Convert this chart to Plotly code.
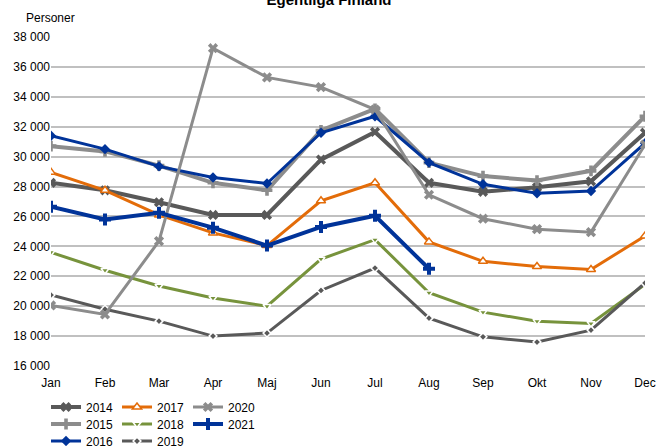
import plotly.graph_objects as go

months = ["Jan", "Feb", "Mar", "Apr", "Maj", "Jun", "Jul", "Aug", "Sep", "Okt", "Nov", "Dec"]

y2014 = [28250, 27750, 26950, 26100, 26100, 29800, 31650, 28250, 27650, 27950, 28350, 31600]
y2015 = [30700, 30350, 29400, 28250, 27750, 31750, 33200, 29600, 28700, 28400, 29050, 32700]
y2016 = [31400, 30500, 29350, 28600, 28200, 31600, 32700, 29600, 28150, 27550, 27700, 30900]
y2017 = [28950, 27750, 26100, 24900, 24050, 27050, 28250, 24300, 23000, 22650, 22450, 24700]
y2018 = [23600, 22400, 21350, 20550, 20000, 23150, 24450, 20900, 19600, 19000, 18850, 21450]
y2019 = [20750, 19800, 19000, 18000, 18200, 21050, 22550, 19200, 17950, 17600, 18400, 21550]
y2020 = [20050, 19450, 24350, 37250, 35300, 34650, 33150, 27450, 25850, 25150, 24950, 30800]
y2021 = [26650, 25800, 26250, 25250, 24050, 25300, 26050, 22500]

# legend rows (three horizontal legends, one per row)
series = [
    ("2014", y2014, "#595959", 4, dict(symbol="x", size=9, color="#595959"), "legend", 1),
    ("2015", y2015, "#8c8c8c", 4, dict(symbol="cross", size=9, color="#8c8c8c"), "legend2", 1),
    ("2016", y2016, "#003399", 3, dict(symbol="diamond", size=8, color="#003399"), "legend3", 1),
    ("2017", y2017, "#e36c09", 3, dict(symbol="triangle-up", size=8, color="white", line=dict(color="#e36c09", width=1.5)), "legend", 2),
    ("2018", y2018, "#77933c", 3, dict(symbol="triangle-down", size=7, color="#77933c", line=dict(color="white", width=1.5)), "legend2", 2),
    ("2019", y2019, "#595959", 3, dict(symbol="diamond", size=6, color="#595959", line=dict(color="white", width=1.5)), "legend3", 2),
    ("2020", y2020, "#8c8c8c", 3, dict(symbol="x", size=9, color="#8c8c8c"), "legend", 3),
    ("2021", y2021, "#003399", 4, dict(symbol="cross", size=10, color="#003399"), "legend2", 3),
]

fig = go.Figure()
for name, vals, color, width, marker, leg, rank in series:
    fig.add_trace(go.Scatter(
        x=months[:len(vals)], y=vals, name=name, mode="lines+markers",
        line=dict(color=color, width=width), marker=marker,
        legend=leg, legendrank=rank,
    ))

font = "Liberation Sans, Arial, sans-serif"
legend_common = dict(orientation="h", yanchor="middle", xanchor="left", x=-0.0084,
                     font=dict(family=font, size=12, color="#000000"),
                     itemwidth=30, entrywidth=26, entrywidthmode="pixels",
                     bgcolor="rgba(0,0,0,0)")

fig.update_layout(
    width=658, height=446,
    margin=dict(l=51, r=13, t=37, b=80, autoexpand=False),
    paper_bgcolor="white", plot_bgcolor="white",
    separators=", ",
    font=dict(family=font, size=12, color="#000000"),
    title=dict(text="<b>Egentliga Finland</b>", x=0.5, xanchor="center",
               y=1.0, yref="container", yanchor="middle",
               font=dict(family=font, size=15, color="#000000")),
    xaxis=dict(range=[0, 11], showgrid=False, zeroline=False, showline=False,
               ticks="", ticklabelstandoff=8, tickfont=dict(size=12)),
    yaxis=dict(range=[16000, 38000], dtick=2000, tickformat=",d", showgrid=True,
               gridcolor="#c0c0c0", gridwidth=1.5, zeroline=False, showline=False,
               ticks="", tickfont=dict(size=12)),
    legend=dict(y=-0.1246, **legend_common),
    legend2=dict(y=-0.1763, **legend_common),
    legend3=dict(y=-0.228, **legend_common),
    annotations=[dict(text="Personer", xref="paper", yref="paper", x=-0.045, y=1.058,
                      xanchor="left", yanchor="middle", showarrow=False,
                      font=dict(family=font, size=12))],
)

fig.write_html("out.html", config={"displayModeBar": False},
               post_script="document.body.style.margin='0px';")
